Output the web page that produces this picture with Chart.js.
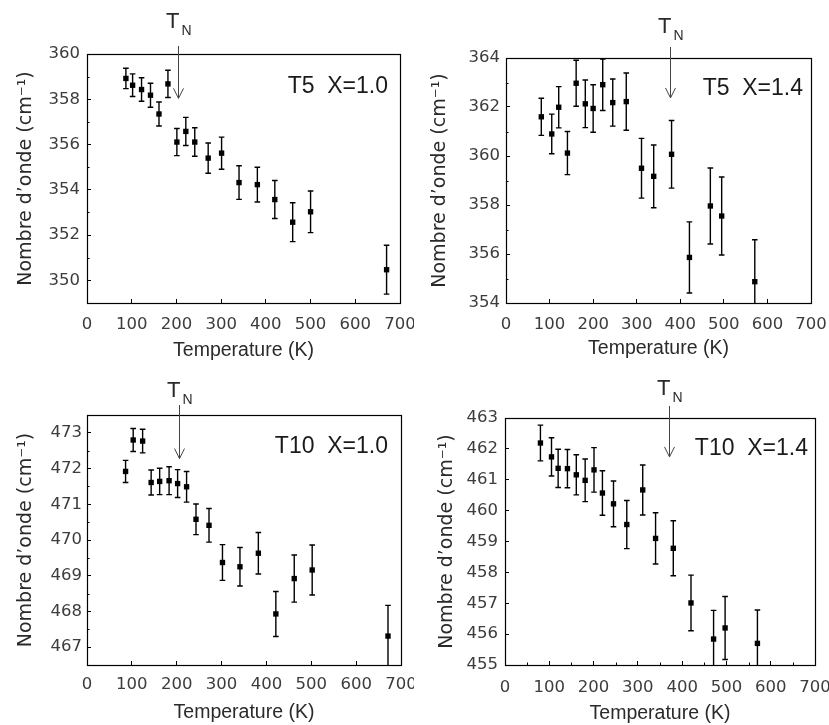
<!DOCTYPE html>
<html>
<head>
<meta charset="utf-8">
<script src="https://cdn.jsdelivr.net/npm/chart.js@4.4.1/dist/chart.umd.min.js"></script>
<style>
html,body{margin:0;padding:0;background:#fff;}
#wrap{position:relative;width:829px;height:725px;overflow:hidden;background:#fff;}
canvas{position:absolute;}
</style>
</head>
<body>
<div id="wrap">
  <canvas id="c1" width="414" height="362" style="left:0px;top:0px"></canvas>
  <canvas id="c2" width="414" height="362" style="left:415px;top:0px"></canvas>
  <canvas id="c3" width="414" height="363" style="left:0px;top:362px"></canvas>
  <canvas id="c4" width="414" height="363" style="left:415px;top:362px"></canvas>
</div>
<script>
// ---------------- DATA ----------------
const tempTicks = [0, 100, 200, 300, 400, 500, 600, 700];

// T5, X=1.0
const t5x10Temp = [87, 102, 122, 142, 161, 181, 201, 221, 241, 271, 301, 340, 381, 420, 460, 500, 670];
const t5x10Wave = [358.92, 358.62, 358.43, 358.18, 357.35, 358.68, 356.11, 356.58, 356.11, 355.40, 355.62, 354.32, 354.23, 353.57, 352.57, 353.03, 350.47];
const t5x10Err  = [0.45, 0.50, 0.52, 0.53, 0.53, 0.60, 0.60, 0.62, 0.63, 0.67, 0.71, 0.74, 0.77, 0.84, 0.86, 0.92, 1.08];
const t5x10YTicks = [350, 352, 354, 356, 358, 360];
const t5x10TN = 203, t5x10TNTip = 358.04;

// T5, X=1.4
const t5x14Temp = [81, 105, 121, 141, 161, 182, 200, 222, 245, 276, 311, 339, 380, 421, 469, 495, 571];
const t5x14Wave = [361.60, 360.90, 361.99, 360.12, 362.97, 362.13, 361.94, 362.91, 362.18, 362.22, 359.50, 359.17, 360.07, 355.86, 357.96, 357.55, 354.87];
const t5x14Err  = [0.76, 0.81, 0.84, 0.88, 0.94, 0.97, 0.97, 1.05, 0.96, 1.17, 1.22, 1.28, 1.38, 1.45, 1.55, 1.59, 1.71];
const t5x14YTicks = [354, 356, 358, 360, 362, 364];
const t5x14TN = 377, t5x14TNTip = 362.37;

// T10, X=1.0
const t10x10Temp = [86, 103, 124, 143, 162, 183, 202, 222, 243, 272, 302, 341, 382, 421, 462, 502, 671];
const t10x10Wave = [471.92, 472.80, 472.77, 471.61, 471.64, 471.66, 471.58, 471.49, 470.58, 470.41, 469.37, 469.25, 469.63, 467.93, 468.92, 469.16, 467.31];
const t10x10Err  = [0.31, 0.32, 0.33, 0.35, 0.37, 0.39, 0.39, 0.43, 0.43, 0.47, 0.50, 0.54, 0.58, 0.63, 0.66, 0.70, 0.86];
const t10x10YTicks = [467, 468, 469, 470, 471, 472, 473];
const t10x10TN = 204, t10x10TNTip = 472.28;

// T10, X=1.4
const t10x14Temp = [80, 105, 120, 141, 161, 181, 201, 220, 245, 275, 311, 340, 380, 420, 471, 497, 570];
const t10x14Wave = [462.19, 461.74, 461.37, 461.36, 461.16, 460.98, 461.32, 460.57, 460.22, 459.55, 460.67, 459.10, 458.78, 457.01, 455.84, 456.20, 455.70];
const t10x14Err  = [0.58, 0.62, 0.62, 0.62, 0.65, 0.69, 0.72, 0.72, 0.74, 0.78, 0.81, 0.83, 0.89, 0.90, 0.93, 1.02, 1.08];
const t10x14YTicks = [455, 456, 457, 458, 459, 460, 461, 462, 463];
const t10x14TN = 370, t10x14TNTip = 461.74;

const xTitle = 'Temperature (K)';
const yTitle = 'Nombre d\u2019onde (cm\u207B\u00B9)';

// ---------------- PANELS (layout/style) ----------------
const panels = [
  { id: 'c1', label: 'T5  X=1.0', temp: t5x10Temp, wave: t5x10Wave, err: t5x10Err, yTicks: t5x10YTicks,
    yMin: 349, yMax: 360, yMinor: 1, xMinor: 0, tn: t5x10TN, tnTip: t5x10TNTip,
    box: { top: 54, right: 14, yw: 87, xh: 59, yPad: 11, xPad: 16, xtPad: 0, ytPad: 14.5 },
    deco: { labelDx: 12, labelDy: 39, arrowAbove: 8, tnBase: 26 } },
  { id: 'c2', label: 'T5  X=1.4', temp: t5x14Temp, wave: t5x14Wave, err: t5x14Err, yTicks: t5x14YTicks,
    yMin: 354, yMax: 364, yMinor: 1, xMinor: 0, tn: t5x14TN, tnTip: t5x14TNTip,
    box: { top: 58, right: 18, yw: 91, xh: 59, yPad: 10, xPad: 16, xtPad: 2, ytPad: 13.5 },
    deco: { labelDx: 8, labelDy: 37, arrowAbove: 11, tnBase: 25 } },
  { id: 'c3', label: 'T10  X=1.0', temp: t10x10Temp, wave: t10x10Wave, err: t10x10Err, yTicks: t10x10YTicks,
    yMin: 466.5, yMax: 473.5, yMinor: 0.5, xMinor: 0, tn: t10x10TN, tnTip: t10x10TNTip,
    box: { top: 53, right: 13, yw: 87, xh: 60, yPad: 9, xPad: 14, xtPad: 1, ytPad: 14.5 },
    deco: { labelDx: 13, labelDy: 38, arrowAbove: 10, tnBase: 18 } },
  { id: 'c4', label: 'T10  X=1.4', temp: t10x14Temp, wave: t10x14Wave, err: t10x14Err, yTicks: t10x14YTicks,
    yMin: 455, yMax: 463, yMinor: 0, xMinor: 50, tn: t10x14TN, tnTip: t10x14TNTip,
    box: { top: 56, right: 14, yw: 90, xh: 60, yPad: 11, xPad: 17, xtPad: 0, ytPad: 20.5 },
    deco: { labelDx: 7, labelDy: 37, arrowAbove: 12, tnBase: 23 } }
];

function decorPlugin(p) {
  return {
    id: 'decor_' + p.id,
    beforeDatasetsDraw(chart) {
      const { ctx, chartArea: a, scales: { x, y } } = chart;
      ctx.save();
      ctx.beginPath();
      ctx.rect(a.left, a.top, a.right - a.left, a.bottom - a.top);
      ctx.clip();
      ctx.strokeStyle = '#000';
      ctx.lineWidth = 1.4;
      p.temp.forEach((t, i) => {
        const px = x.getPixelForValue(t);
        const y1 = y.getPixelForValue(p.wave[i] + p.err[i]);
        const y2 = y.getPixelForValue(p.wave[i] - p.err[i]);
        ctx.beginPath();
        ctx.moveTo(px, y1); ctx.lineTo(px, y2);
        ctx.moveTo(px - 2.8, y1); ctx.lineTo(px + 2.8, y1);
        ctx.moveTo(px - 2.8, y2); ctx.lineTo(px + 2.8, y2);
        ctx.stroke();
      });
      ctx.restore();
    },
    afterDraw(chart) {
      const { ctx, chartArea: a, scales: { x, y } } = chart;
      const d = p.deco;
      ctx.save();
      // frame
      ctx.strokeStyle = '#000';
      ctx.lineWidth = 1.2;
      ctx.strokeRect(Math.round(a.left) + 0.5, Math.round(a.top) + 0.5,
                     Math.round(a.right - a.left), Math.round(a.bottom - a.top));
      // minor ticks
      ctx.lineWidth = 1;
      if (p.yMinor) {
        for (let v = Math.ceil(p.yMin / p.yMinor) * p.yMinor; v <= p.yMax + 1e-9; v += p.yMinor) {
          if (p.yTicks.some(t => Math.abs(t - v) < 1e-6)) continue;
          const py = Math.round(y.getPixelForValue(v)) + 0.5;
          ctx.beginPath(); ctx.moveTo(a.left, py); ctx.lineTo(a.left + 2.5, py); ctx.stroke();
        }
      }
      if (p.xMinor) {
        for (let v = p.xMinor; v < 700; v += p.xMinor) {
          if (tempTicks.includes(v)) continue;
          const px = Math.round(x.getPixelForValue(v)) + 0.5;
          ctx.beginPath(); ctx.moveTo(px, a.bottom); ctx.lineTo(px, a.bottom - 2.5); ctx.stroke();
        }
      }
      // label
      ctx.fillStyle = '#1a1a1a';
      ctx.font = '23px "Liberation Sans", Arial, sans-serif';
      ctx.textAlign = 'right';
      ctx.textBaseline = 'alphabetic';
      ctx.fillText(p.label, a.right - d.labelDx, a.top + d.labelDy);
      // T_N arrow
      const ax = Math.round(x.getPixelForValue(p.tn)) + 0.5;
      const tip = y.getPixelForValue(p.tnTip);
      ctx.strokeStyle = '#444';
      ctx.lineWidth = 1;
      ctx.beginPath();
      ctx.moveTo(ax, a.top - d.arrowAbove); ctx.lineTo(ax, tip);
      ctx.moveTo(ax - 5, tip - 10); ctx.lineTo(ax, tip); ctx.lineTo(ax + 5, tip - 10);
      ctx.stroke();
      ctx.fillStyle = '#2a2a2a';
      ctx.font = '22px "Liberation Sans", Arial, sans-serif';
      ctx.textAlign = 'right';
      ctx.fillText('T', ax + 1, a.top - d.tnBase);
      ctx.font = '14px "Liberation Sans", Arial, sans-serif';
      ctx.textAlign = 'left';
      ctx.fillText('N', ax + 3, a.top - d.tnBase + 7);
      ctx.restore();
    }
  };
}

Chart.defaults.font.family = '"DejaVu Sans", sans-serif';
Chart.defaults.color = '#3c3c3c';

panels.forEach(p => {
  const pts = p.temp.map((t, i) => ({ x: t, y: p.wave[i] }));
  new Chart(document.getElementById(p.id), {
    type: 'scatter',
    data: { datasets: [{ data: pts, pointStyle: 'rect', pointRadius: 3.8, pointHoverRadius: 3.8,
      backgroundColor: '#000', borderColor: '#000', borderWidth: 0, showLine: false }] },
    options: {
      responsive: false, animation: false, events: [],
      layout: { padding: { top: p.box.top, right: p.box.right, left: 0, bottom: 0 } },
      plugins: { legend: { display: false }, tooltip: { enabled: false } },
      scales: {
        x: {
          type: 'linear', min: 0, max: 700,
          afterBuildTicks: s => { s.ticks = tempTicks.map(v => ({ value: v })); },
          afterFit: s => { s.height = p.box.xh; s.paddingLeft = 0; s.paddingRight = 0; },
          grid: { display: true, drawOnChartArea: false, drawTicks: true, tickLength: -4, tickColor: '#000', tickWidth: 1 },
          border: { display: false },
          ticks: { autoSkip: false, maxRotation: 0, padding: p.box.xPad, font: { size: 16.5 }, color: '#3c3c3c' },
          title: { display: true, text: xTitle, color: '#2a2a2a',
                   font: { family: '"Liberation Sans", Arial, sans-serif', size: 19.5 },
                   padding: { top: 0, bottom: p.box.xtPad } }
        },
        y: {
          type: 'linear', min: p.yMin, max: p.yMax,
          afterBuildTicks: s => { s.ticks = p.yTicks.map(v => ({ value: v })); },
          afterFit: s => { s.width = p.box.yw; s.paddingTop = 0; s.paddingBottom = 0; },
          grid: { display: true, drawOnChartArea: false, drawTicks: true, tickLength: -4, tickColor: '#000', tickWidth: 1 },
          border: { display: false },
          ticks: { autoSkip: false, padding: p.box.yPad, font: { size: 16.5 }, color: '#3c3c3c' },
          title: { display: true, text: yTitle, color: '#2a2a2a',
                   font: { family: '"DejaVu Sans", sans-serif', size: 19 },
                   padding: { top: p.box.ytPad, bottom: 0 } }
        }
      }
    },
    plugins: [decorPlugin(p)]
  });
});
</script>
</body>
</html>
